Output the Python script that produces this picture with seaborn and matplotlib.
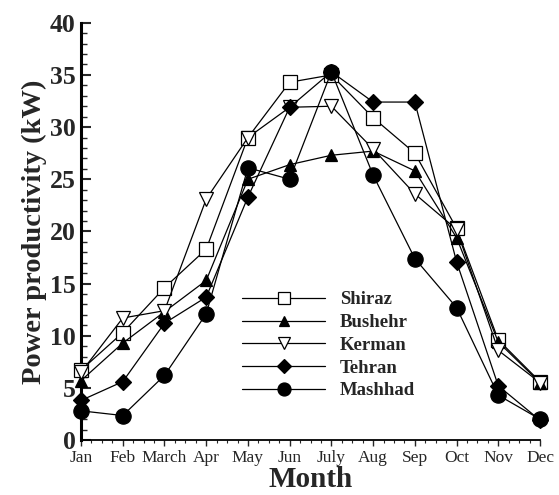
import numpy as np
import pandas as pd
import matplotlib
matplotlib.use("Agg")
import matplotlib.pyplot as plt
from matplotlib.ticker import MultipleLocator
import seaborn as sns

sns.set_theme(style="white")
plt.rcParams["font.family"] = ["Liberation Serif", "DejaVu Serif"]

months = ["Jan", "Feb", "March", "Apr", "May", "Jun", "July", "Aug", "Sep", "Oct", "Nov", "Dec"]
shiraz = [6.7, 10.3, 14.6, 18.3, 29.0, 34.3, 35.0, 30.9, 27.5, 20.3, 9.6, 5.6]
bushehr = [5.7, 9.3, 12.3, 15.3, 25.0, 26.4, 27.3, 27.7, 25.8, 19.4, 9.4, 5.5]
kerman = [6.5, 11.7, 12.4, 23.1, 29.0, 31.9, 32.0, 27.9, 23.6, 20.2, 8.6, 5.5]
tehran = [3.8, 5.6, 11.2, 13.7, 23.3, 31.9, 35.3, 32.4, 32.4, 17.1, 5.2, 1.9]
mashhad = [2.8, 2.35, 6.2, 12.1, 26.1, 25.0, 35.3, 25.4, 17.4, 12.7, 4.3, 2.0]

cities = ["Shiraz", "Bushehr", "Kerman", "Tehran", "Mashhad"]
series = [shiraz, bushehr, kerman, tehran, mashhad]
rows = []
for city, vals in zip(cities, series):
    for i, v in enumerate(vals):
        rows.append({"idx": i, "Month": months[i], "City": city, "Power": v})
df = pd.DataFrame(rows)

styles = {
    "Shiraz": dict(marker="s", ms=10, mfc="white"),
    "Bushehr": dict(marker="^", ms=9, mfc="black"),
    "Kerman": dict(marker="v", ms=10, mfc="white"),
    "Tehran": dict(marker="D", ms=8, mfc="black"),
    "Mashhad": dict(marker="o", ms=11, mfc="black"),
}

fig = plt.figure(figsize=(5.59, 4.95), dpi=100)
ax = fig.add_axes([0.145, 0.111, 0.821, 0.843])

for city in cities:
    st = styles[city]
    sns.lineplot(data=df[df["City"] == city], x="idx", y="Power", ax=ax,
                 color="black", lw=0.9, marker=st["marker"], markersize=st["ms"],
                 markerfacecolor=st["mfc"], markeredgecolor="black",
                 markeredgewidth=0.9, label=city, clip_on=False, zorder=3)

ax.set_xlim(0, 11)
ax.set_ylim(0, 40)
ax.set_xticks(range(12))
ax.set_xticklabels(months, fontsize=12.5)
ax.xaxis.set_minor_locator(MultipleLocator(0.25))
ax.yaxis.set_major_locator(MultipleLocator(5))
ax.yaxis.set_minor_locator(MultipleLocator(1))
for lab in ax.get_yticklabels():
    lab.set_fontweight("bold")
    lab.set_fontsize(18.5)

ax.tick_params(axis="y", which="major", direction="in", length=7, width=1.5, left=True, pad=4)
ax.tick_params(axis="y", which="minor", direction="in", length=4, width=1, left=True)
ax.tick_params(axis="x", which="major", direction="out", length=4, width=1, bottom=True, pad=3)
ax.tick_params(axis="x", which="minor", direction="out", length=2, width=0.8, bottom=True)

for s in ["top", "right"]:
    ax.spines[s].set_visible(False)
ax.spines["left"].set_linewidth(2.2)
ax.spines["bottom"].set_linewidth(1.3)
ax.spines["left"].set_color("black")
ax.spines["bottom"].set_color("black")

ax.set_xlabel("Month", fontsize=21, fontweight="bold", labelpad=0)
ax.set_ylabel("Power productivity (kW)", fontsize=20.5, fontweight="bold", labelpad=2)

leg = ax.legend(loc="upper left", bbox_to_anchor=(0.315, 0.397), frameon=False,
                handlelength=4.4, handletextpad=0.8, labelspacing=0.3,
                markerscale=0.85, prop={"weight": "bold", "size": 13.5})

fig.savefig("out.png", dpi=100)
